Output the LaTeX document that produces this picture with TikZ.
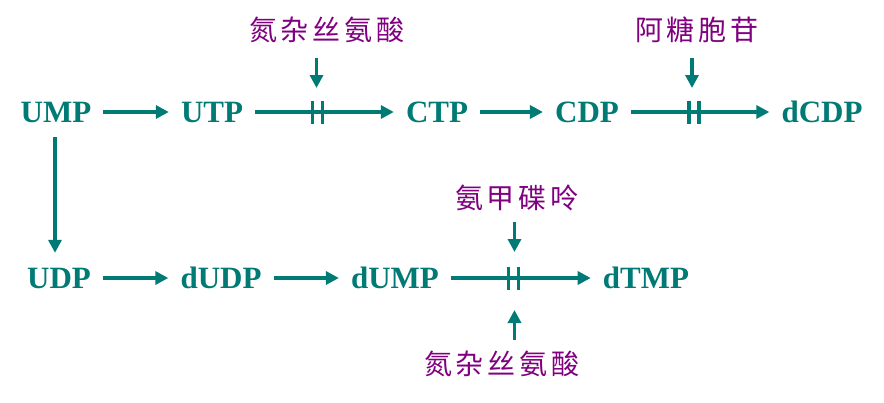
\documentclass[tikz,border=0pt]{standalone}
\usepackage{fontspec}
\setmainfont{Liberation Serif}
\newfontfamily\cjk{Noto Sans CJK SC}
\usetikzlibrary{arrows.meta,calc}
\definecolor{tealc}{RGB}{0,122,116}
\definecolor{purp}{RGB}{128,0,128}
\newcommand{\cgap}{\hspace{4pt}}
\begin{document}
\begin{tikzpicture}[x=1pt,y=-1pt,
  met/.style={font=\fontsize{31}{31}\selectfont\bfseries, text=tealc, inner xsep=12pt, inner ysep=15pt, text height=20pt, text depth=0pt},
  drug/.style={font=\cjk\fontsize{28}{28}\selectfont, text=purp, inner sep=0pt, text height=23pt, text depth=3pt},
  rx/.style={draw=tealc, line width=3.8pt, -{Triangle[length=13pt,width=13pt]}},
  blk/.style={draw=tealc, line width=3.8pt}]
\useasboundingbox (0,0) rectangle (884,402);
% metabolites
\node[met] (UMP) at (56,112) {UMP};
\node[met] (UTP) at (212,112) {UTP};
\node[met] (CTP) at (437,112) {CTP};
\node[met] (CDP) at (587,112) {CDP};
\node[met] (dCDP) at (822,112) {dCDP};
\node[met] (UDP) at (59,278) {UDP};
\node[met] (dUDP) at (221,278) {dUDP};
\node[met] (dUMP) at (395,278) {dUMP};
\node[met] (dTMP) at (646,278) {dTMP};
% drugs
\node[drug] (d1) at (327,30) {氮\cgap 杂\cgap 丝\cgap 氨\cgap 酸};
\node[drug] (d2) at (697,30) {阿\cgap 糖\cgap 胞\cgap 苷};
\node[drug] (d3) at (517,198) {氨\cgap 甲\cgap 碟\cgap 呤};
\node[drug] (d4) at (502,364) {氮\cgap 杂\cgap 丝\cgap 氨\cgap 酸};
% block points
\coordinate (b1) at (317.5,112);
\coordinate (b2) at (694,112);
\coordinate (b3) at (513.5,278);
% reactions
\draw[rx] (UMP) -- (UTP);
\draw[rx] (UTP) -- (CTP);
\draw[rx] (CTP) -- (CDP);
\draw[rx] (CDP) -- (dCDP);
\draw[rx] ([xshift=-1pt]UMP.south) -- ([xshift=-1pt]UMP.south |- UDP.north);
\draw[rx] (UDP) -- (dUDP);
\draw[rx] (dUDP) -- (dUMP);
\draw[rx] (dUMP) -- (dTMP);
% block bars
\foreach \b in {b1,b2,b3}{
  \draw[blk] ([shift={(-5,-11.5)}]\b) -- ([shift={(-5,11.5)}]\b);
  \draw[blk] ([shift={(5,-11.5)}]\b) -- ([shift={(5,11.5)}]\b);
}
% inhibitor arrows
\draw[rx] ($(d1.south -| b1)+(-1,15)$) -- ([shift={(-1,-24)}]b1);
\draw[rx] ($(d2.south -| b2)+(-2,15)$) -- ([shift={(-2,-24)}]b2);
\draw[rx] ($(d3.south -| b3)+(1,11)$) -- ([shift={(1,-26)}]b3);
\draw[rx] ($(d4.north -| b3)+(1,-11)$) -- ([shift={(1,32)}]b3);
\end{tikzpicture}
\end{document}
